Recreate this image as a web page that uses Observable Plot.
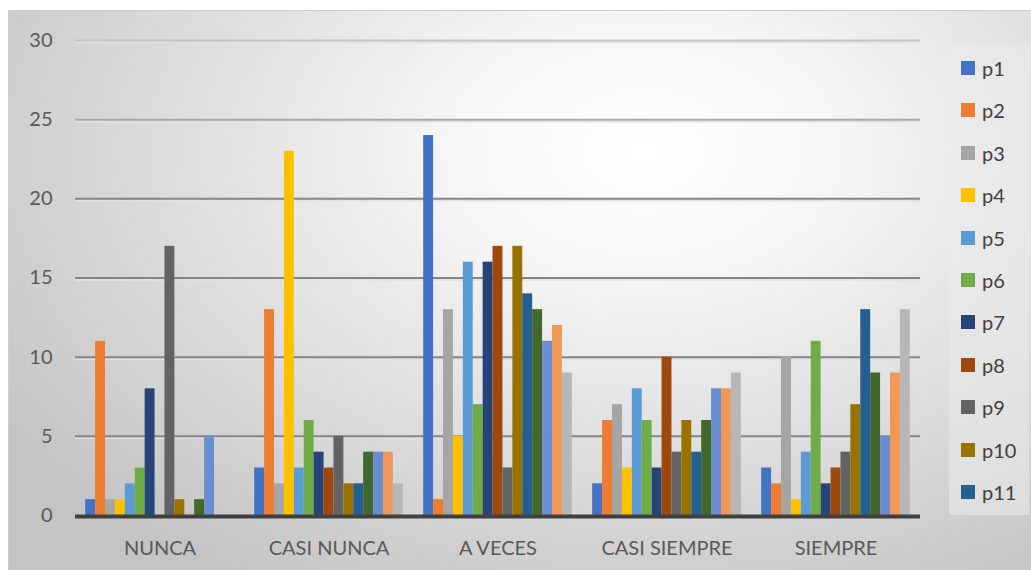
<!DOCTYPE html>
<html>
<head>
<meta charset="utf-8">
<script src="https://cdn.jsdelivr.net/npm/d3@7"></script>
<script src="https://cdn.jsdelivr.net/npm/@observablehq/plot@0.6"></script>
<style>
  html, body { margin: 0; padding: 0; background: #ffffff; }
  #wrap { position: relative; width: 1031px; height: 570px; overflow: hidden; font-family: Lato, "Open Sans", sans-serif; }
  #bg { position: absolute; left: 8px; top: 10px; width: 1023px; height: 560px;
        border-top: 1px solid #cfcfcf; border-left: 1px solid #cfcfcf; box-sizing: border-box;
        background: radial-gradient(ellipse 75% 90% at 62% 25%, #ffffff 0%, #f6f6f6 25%, #dedede 60%, #c4c4c4 100%); }
  #plot { position: absolute; left: 0; top: 0; }
  #legend { position: absolute; left: 949px; top: 45px; width: 80px; height: 470px; overflow: hidden;
            background: rgba(235,235,235,0.55); }
  .item { position: absolute; left: 12px; height: 24px; display: flex; align-items: center; }
  .sw { width: 14px; height: 14px; margin-right: 7px; }
  .lb { font-size: 20px; color: #404040; font-family: Lato, "Open Sans", sans-serif; }
</style>
</head>
<body>
<div id="wrap">
  <div id="bg"></div>
  <div id="plot"></div>
  <div id="legend"></div>
</div>
<script>
const categories = ["NUNCA", "CASI NUNCA", "A VECES", "CASI SIEMPRE", "SIEMPRE"];
const series = ["p1","p2","p3","p4","p5","p6","p7","p8","p9","p10","p11","p12","p13","p14","p15"];
const colors = ["#4472C4","#ED7D31","#A5A5A5","#FFC000","#5B9BD5","#70AD47","#264478","#9E480E","#636363","#997300","#255E91","#43682B","#698ED0","#F1975A","#B7B7B7"];
// legend entries visible in the (clipped) legend box of the reference
const legendSeries = series.slice(0, 11);

const nunca       = [1, 11, 1, 1, 2, 3, 8, 0, 17, 1, 0, 1, 5, 0, 0];
const casiNunca   = [3, 13, 2, 23, 3, 6, 4, 3, 5, 2, 2, 4, 4, 4, 2];
const aVeces      = [24, 1, 13, 5, 16, 7, 16, 17, 3, 17, 14, 13, 11, 12, 9];
const casiSiempre = [2, 6, 7, 3, 8, 6, 3, 10, 4, 6, 4, 6, 8, 8, 9];
const siempre     = [3, 2, 10, 1, 4, 11, 2, 3, 4, 7, 13, 9, 5, 9, 13];

const yTicks = [0, 5, 10, 15, 20, 25, 30];

const valuesByCategory = [nunca, casiNunca, aVeces, casiSiempre, siempre];
const data = [];
categories.forEach((c, ci) => {
  series.forEach((s, si) => {
    data.push({category: c, series: s, value: valuesByCategory[ci][si]});
  });
});

const chart = Plot.plot({
  width: 1031,
  height: 570,
  marginLeft: 73,
  marginRight: 110,
  marginTop: 40,
  marginBottom: 55,
  style: {background: "transparent", fontFamily: "Lato, 'Open Sans', sans-serif", fontSize: "20px", color: "#595959"},
  fx: {domain: categories, padding: 0, label: null, axis: "bottom", tickSize: 0, tickPadding: 25},
  x: {domain: series, axis: null, padding: 0, round: false, insetLeft: 10.2, insetRight: 10.2},
  y: {domain: [0, 30], ticks: yTicks, tickSize: 0, tickPadding: 23, label: null, tickFormat: d => String(d)},
  color: {domain: series, range: colors},
  marks: [
    Plot.ruleY(yTicks.filter(d => d > 0), {dy: 2, stroke: "#e2e2e2", strokeWidth: 1.5}),
    Plot.ruleY(yTicks.filter(d => d > 0), {stroke: d => d >= 30 ? "#c4c4c4" : d >= 25 ? "#a8a8a8" : "#858585", strokeWidth: 2}),
    Plot.barY(data, {fx: "category", x: "series", y: "value", fill: "series", inset: 0}),
    Plot.ruleY([0], {stroke: "#404040", strokeWidth: 4, dy: 1})
  ]
});
document.getElementById("plot").appendChild(chart);

const legend = document.getElementById("legend");
legendSeries.forEach((s, i) => {
  const item = document.createElement("div");
  item.className = "item";
  item.style.top = (23 - 12 + i * 42.4) + "px";
  const sw = document.createElement("div");
  sw.className = "sw";
  sw.style.background = colors[i];
  const lb = document.createElement("span");
  lb.className = "lb";
  lb.textContent = s;
  item.appendChild(sw);
  item.appendChild(lb);
  legend.appendChild(item);
});
</script>
</body>
</html>
